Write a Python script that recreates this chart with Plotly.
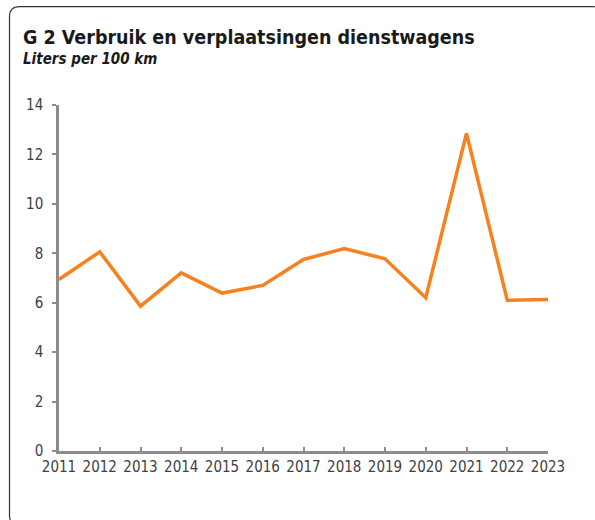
import plotly.graph_objects as go

years = list(range(2011, 2024))
liters_per_100km = [6.94, 8.06, 5.86, 7.21, 6.39, 6.70, 7.75, 8.19, 7.78, 6.20, 12.85, 6.10, 6.13]
y_ticks = [0, 2, 4, 6, 8, 10, 12, 14]

title = "G 2 Verbruik en verplaatsingen dienstwagens"
subtitle = "Liters per 100 km"

W, H = 595, 520
L, R, T, B = 59, 548, 105, 451.5

def px(x):
    return (x - L) / (R - L)

def py(y):
    return (B - y) / (B - T)

FONT = "DejaVu Sans Condensed"

fig = go.Figure()
fig.add_trace(go.Scatter(
    x=years, y=liters_per_100km, mode="lines",
    line=dict(color="#F5821F", width=3.5),
    hoverinfo="x+y", showlegend=False,
))

# rounded border (right and bottom edges lie outside the visible area)
x0, x1, y0, y1 = px(9.5), px(603), py(6.5), py(526)
rx, ry = 10 / (R - L), 10 / (B - T)
path = (f"M {x0},{y0 - ry} Q {x0},{y0} {x0 + rx},{y0} L {x1 - rx},{y0} "
        f"Q {x1},{y0} {x1},{y0 - ry} L {x1},{y1 + ry} Q {x1},{y1} {x1 - rx},{y1} "
        f"L {x0 + rx},{y1} Q {x0},{y1} {x0},{y1 + ry} Z")
fig.add_shape(type="path", path=path, xref="paper", yref="paper",
              line=dict(color="#333333", width=1.2), layer="below")

fig.add_annotation(text=f"<b>{title}</b>", xref="paper", yref="paper",
                   x=px(21), y=py(24), xanchor="left", yanchor="top",
                   showarrow=False, font=dict(family=FONT, size=19.5, color="#1a1a1a"))
fig.add_annotation(text=f"<b><i>{subtitle}</i></b>", xref="paper", yref="paper",
                   x=px(21), y=py(48), xanchor="left", yanchor="top",
                   showarrow=False, font=dict(family=FONT, size=15, color="#1a1a1a"))

fig.update_layout(
    width=W, height=H,
    margin=dict(l=L, r=W - R, t=T, b=H - B, pad=0),
    paper_bgcolor="white", plot_bgcolor="white",
    font=dict(family=FONT, size=15, color="#404040"),
)
fig.update_xaxes(
    range=[years[0], years[-1]], tickmode="array", tickvals=years,
    ticktext=[str(y) for y in years],
    showgrid=False, zeroline=False, showline=True,
    linecolor="#8c8c8c", linewidth=2.5,
    ticks="inside", ticklen=4, tickcolor="#8c8c8c", tickwidth=1.5,
    tickfont=dict(family=FONT, size=15, color="#404040"),
)
fig.update_yaxes(
    range=[0, 14], tickmode="array", tickvals=y_ticks,
    showgrid=False, zeroline=False, showline=True,
    linecolor="#8c8c8c", linewidth=2.5,
    ticks="outside", ticklen=4, tickcolor="#8c8c8c", tickwidth=1.5,
    ticklabelstandoff=6,
    tickfont=dict(family=FONT, size=15, color="#404040"),
)

fig.write_html("out.html", config={"displayModeBar": False},
               post_script="document.body.style.margin='0';")
